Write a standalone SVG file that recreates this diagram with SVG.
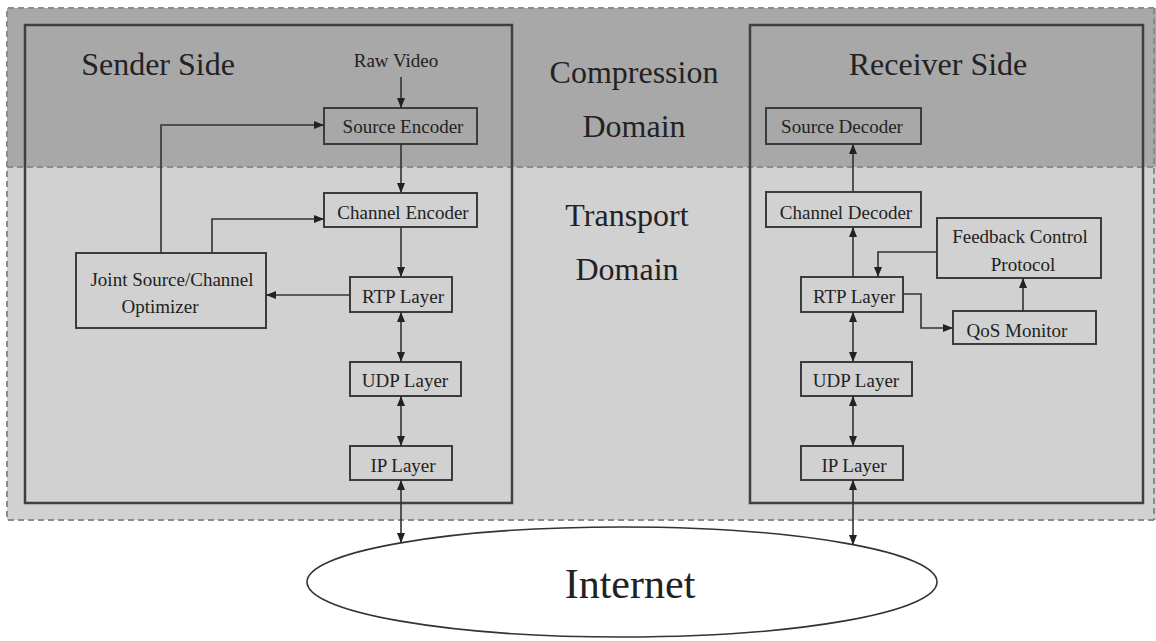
<svg xmlns="http://www.w3.org/2000/svg" width="1156" height="641" viewBox="0 0 1156 641">
<style>
.band{stroke:none}
.dash{fill:none;stroke:#8c8c8c;stroke-width:2;stroke-dasharray:6 4}
.side{fill:none;stroke:#404040;stroke-width:2.5}
.box{fill:none;stroke:#3c3c3c;stroke-width:2}
.t{font-family:"Liberation Serif","Times New Roman",serif;fill:#222;text-anchor:middle}
.s{font-size:19px}
.big{font-size:32px}
.c{fill:none;stroke:#333;stroke-width:1.6}
</style>
<defs>
<marker id="ah" viewBox="0 0 10 8" refX="10" refY="4" markerWidth="10" markerHeight="8" markerUnits="userSpaceOnUse" orient="auto-start-reverse">
<path d="M0,0 L10,4 L0,8 Z" fill="#222"/>
</marker>
</defs>
<rect width="1156" height="641" fill="#ffffff"/>
<rect class="band" x="7" y="8" width="1149" height="159" fill="#a8a8a8"/>
<rect class="band" x="7" y="167" width="1149" height="353" fill="#d1d1d1"/>
<path class="dash" d="M1154,8 H7 V520 H1156 M7,167 H1156 M1154,8 V520"/>
<g id="domains">
<text class="t big" x="634" y="83">Compression</text>
<text class="t big" x="634" y="137">Domain</text>
<text class="t big" x="627" y="226">Transport</text>
<text class="t big" x="627" y="280">Domain</text>
</g>
<g id="sender">
<rect class="side" x="25" y="25" width="487" height="478"/>
<text class="t" x="158" y="75" style="font-size:32px">Sender Side</text>
</g>
<g id="receiver">
<rect class="side" x="750" y="25" width="393" height="478"/>
<text class="t" x="938" y="75" style="font-size:32px">Receiver Side</text>
</g>
<g id="raw-video"><text class="t s" x="396" y="67">Raw Video</text></g>
<g id="source-encoder"><rect class="box" x="324" y="108" width="153" height="36"/><text class="t s" x="403" y="133">Source Encoder</text></g>
<g id="channel-encoder"><rect class="box" x="324" y="193" width="153" height="34"/><text class="t s" x="403" y="219">Channel Encoder</text></g>
<g id="optimizer"><rect class="box" x="76" y="253" width="190" height="75"/><text class="t s" x="172" y="286">Joint Source/Channel</text><text class="t s" x="160" y="313">Optimizer</text></g>
<g id="rtp-s"><rect class="box" x="350" y="277" width="102" height="35"/><text class="t s" x="403" y="303">RTP Layer</text></g>
<g id="udp-s"><rect class="box" x="350" y="362" width="111" height="34"/><text class="t s" x="405" y="387">UDP Layer</text></g>
<g id="ip-s"><rect class="box" x="350" y="446" width="102" height="34"/><text class="t s" x="403" y="472">IP Layer</text></g>
<g id="source-decoder"><rect class="box" x="766" y="108" width="155" height="36"/><text class="t s" x="842" y="133">Source Decoder</text></g>
<g id="channel-decoder"><rect class="box" x="766" y="192" width="155" height="35"/><text class="t s" x="846" y="219">Channel Decoder</text></g>
<g id="feedback"><rect class="box" x="937" y="218" width="164" height="60"/><text class="t s" x="1020" y="243">Feedback Control</text><text class="t s" x="1023" y="271">Protocol</text></g>
<g id="rtp-r"><rect class="box" x="801" y="277" width="102" height="35"/><text class="t s" x="854" y="303">RTP Layer</text></g>
<g id="qos"><rect class="box" x="953" y="311" width="143" height="33"/><text class="t s" x="1017" y="337">QoS Monitor</text></g>
<g id="udp-r"><rect class="box" x="801" y="362" width="111" height="34"/><text class="t s" x="856" y="387">UDP Layer</text></g>
<g id="ip-r"><rect class="box" x="801" y="446" width="102" height="34"/><text class="t s" x="854" y="472">IP Layer</text></g>
<g id="internet"><ellipse cx="622" cy="582" rx="315" ry="55" fill="#ffffff" stroke="#333" stroke-width="1.6"/><text class="t" x="630" y="598" style="font-size:42px">Internet</text></g>
<g id="connectors">
<path class="c" d="M401,77 V108" marker-end="url(#ah)"/>
<path class="c" d="M401,144 V193" marker-end="url(#ah)"/>
<path class="c" d="M401,227 V277" marker-end="url(#ah)"/>
<path class="c" d="M161,253 V125 H324" marker-end="url(#ah)"/>
<path class="c" d="M212,253 V219 H324" marker-end="url(#ah)"/>
<path class="c" d="M350,295 H266" marker-end="url(#ah)"/>
<path class="c" d="M401,312 V362" marker-start="url(#ah)" marker-end="url(#ah)"/>
<path class="c" d="M401,396 V446" marker-start="url(#ah)" marker-end="url(#ah)"/>
<path class="c" d="M401,480 V543" marker-start="url(#ah)" marker-end="url(#ah)"/>
<path class="c" d="M853,192 V144" marker-end="url(#ah)"/>
<path class="c" d="M853,277 V227" marker-end="url(#ah)"/>
<path class="c" d="M937,252 H878 V277" marker-end="url(#ah)"/>
<path class="c" d="M903,294 H921 V328 H953" marker-end="url(#ah)"/>
<path class="c" d="M1023,311 V278" marker-end="url(#ah)"/>
<path class="c" d="M853,312 V362" marker-start="url(#ah)" marker-end="url(#ah)"/>
<path class="c" d="M853,396 V446" marker-start="url(#ah)" marker-end="url(#ah)"/>
<path class="c" d="M853,480 V545" marker-start="url(#ah)" marker-end="url(#ah)"/>
</g>
</svg>
